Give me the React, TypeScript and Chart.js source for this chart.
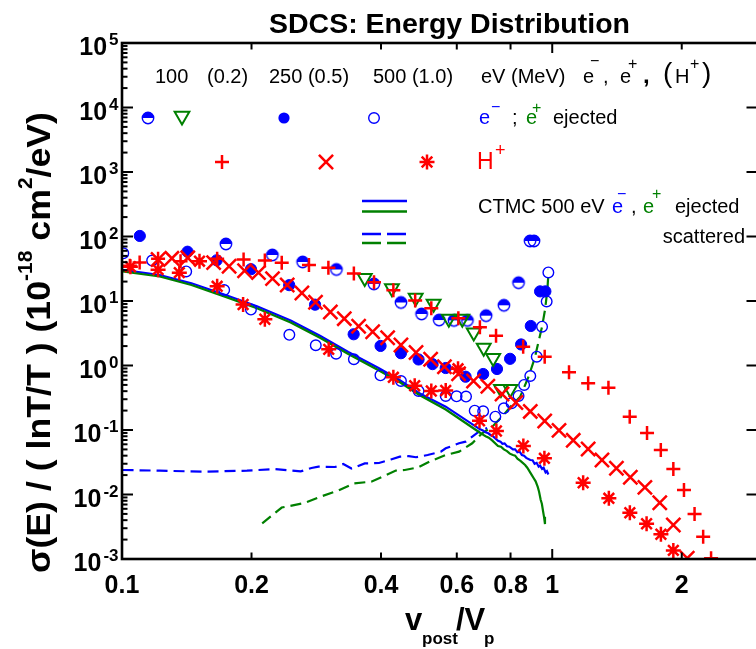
import React, { useEffect, useRef } from "react";
import { Chart, registerables } from "chart.js";

Chart.register(...registerables);

const FONT = "'Liberation Sans', Arial, Helvetica, sans-serif";
const BLUE = "#0000ff";
const GREEN = "#008000";
const RED = "#ff0000";

// ---------- axes ----------
const xTickValues = [0.1, 0.2, 0.4, 0.6, 0.8, 1, 2];
const xTickLabels = ["0.1", "0.2", "0.4", "0.6", "0.8", "1", "2"];
const yTickExponents = [5, 4, 3, 2, 1, 0, -1, -2, -3];

// ---------- measured data ----------
// 100 eV electrons (half-filled circles)
const e100X = [0.1744, 0.2236, 0.263, 0.315, 0.385, 0.445, 0.497, 0.546, 0.591, 0.635, 0.702, 0.772, 0.835, 0.888, 0.907];
const e100Y = [76.6, 51.7, 40.3, 30.8, 18.4, 9.48, 6.29, 5.07, 5.0, 5.0, 5.92, 8.58, 19.2, 85.2, 85.2];
// 100 eV positrons (open down triangles)
const p100X = [0.3666, 0.424, 0.4815, 0.53, 0.575, 0.618, 0.657, 0.693, 0.729, 0.76, 0.799];
const p100Y = [22.7, 15.8, 11.2, 9.1, 5.3, 5.3, 3.26, 1.89, 1.31, 0.434, 0.434];
// 250 eV electrons (filled circles)
const e250X = [0.11, 0.142, 0.166, 0.1994, 0.2447, 0.281, 0.3455, 0.399, 0.445, 0.489, 0.527, 0.5655, 0.629, 0.691, 0.744, 0.798, 0.8465, 0.8916, 0.937, 0.964];
const e250Y = [102, 58.1, 42.8, 31.1, 17.6, 8.77, 3.05, 2.01, 1.55, 1.24, 1.05, 0.914, 0.67, 0.738, 0.883, 1.27, 2.12, 4.1, 14.1, 14.1];
// 500 eV electrons (open circles)
const e500X = [0.1007, 0.1175, 0.141, 0.1728, 0.1994, 0.2449, 0.2821, 0.3145, 0.3459, 0.3988, 0.445, 0.489, 0.5655, 0.5993, 0.6304, 0.6604, 0.691, 0.7375, 0.772, 0.8043, 0.835, 0.8604, 0.8892, 0.9205, 0.947, 0.9707, 0.9795];
const e500Y = [54.9, 42.4, 28.7, 14.8, 7.36, 2.99, 2.06, 1.52, 1.25, 0.705, 0.575, 0.403, 0.337, 0.333, 0.33, 0.199, 0.195, 0.161, 0.217, 0.259, 0.337, 0.499, 0.687, 1.37, 4.0, 9.86, 27.7];
// 0.2 MeV protons (plus)
const h02X = [0.1043, 0.1099, 0.1213, 0.1368, 0.1664, 0.1917, 0.2148, 0.2351, 0.272, 0.3018, 0.3459, 0.3853, 0.4273, 0.4802, 0.5235, 0.605, 0.679, 0.7403, 0.856, 0.9605, 1.094, 1.212, 1.351, 1.514, 1.661, 1.788, 1.912, 2.024, 2.142, 2.243, 2.34];
const h02Y = [35.2, 39.5, 45.1, 41.4, 45.1, 43.8, 42.4, 39.3, 36.1, 32.8, 26.6, 19.6, 14.7, 10.2, 7.71, 5.4, 3.93, 2.9, 1.96, 1.37, 0.785, 0.53, 0.453, 0.161, 0.0898, 0.049, 0.0248, 0.01175, 0.00499, 0.00222, 0.00103];
// 0.5 MeV protons (x)
const h05X = [0.1213, 0.1306, 0.1422, 0.1633, 0.1774, 0.1927, 0.2076, 0.2238, 0.2421, 0.2619, 0.2817, 0.305, 0.3286, 0.3548, 0.3825, 0.4144, 0.445, 0.4824, 0.5216, 0.5617, 0.6057, 0.6562, 0.7085, 0.7644, 0.8233, 0.8892, 0.9605, 1.037, 1.119, 1.212, 1.305, 1.41, 1.519, 1.642, 1.778, 1.912, 2.06];
const h05Y = [44.0, 45.9, 46.7, 39.3, 34.5, 29.4, 27.5, 22.2, 17.7, 13.3, 9.58, 6.75, 5.32, 4.06, 3.34, 2.69, 2.08, 1.59, 1.25, 0.958, 0.746, 0.575, 0.476, 0.361, 0.267, 0.194, 0.138, 0.0986, 0.0692, 0.0507, 0.0343, 0.0255, 0.0185, 0.0129, 0.00746, 0.00337, 0.00103];
// 1.0 MeV protons (asterisk)
const h10X = [0.1046, 0.1213, 0.1359, 0.1514, 0.1664, 0.1912, 0.2148, 0.3023, 0.4273, 0.479, 0.5235, 0.5655, 0.604, 0.6776, 0.7417, 0.8568, 0.959, 1.18, 1.354, 1.515, 1.657, 1.789, 1.912];
const h10Y = [34.0, 30.6, 27.5, 41.4, 16.9, 8.83, 5.22, 1.78, 0.656, 0.486, 0.403, 0.41, 0.889, 0.139, 0.0964, 0.0565, 0.0364, 0.0152, 0.00873, 0.00522, 0.00352, 0.00242, 0.00136];

// CTMC 500 eV ejected electrons (blue solid)
const ctmcEjEX = [0.1003, 0.1224, 0.145, 0.1728, 0.2059, 0.2466, 0.2892, 0.3357, 0.3957, 0.4416, 0.4911, 0.5655, 0.6754, 0.69, 0.7, 0.71, 0.72, 0.73, 0.7482, 0.758, 0.766, 0.775, 0.785, 0.795, 0.8103, 0.82, 0.83, 0.84, 0.85, 0.86, 0.87, 0.8892, 0.9, 0.91, 0.92, 0.93, 0.937, 0.947, 0.955, 0.965, 0.972, 0.9795];
const ctmcEjEY = [30.3, 25.3, 18.8, 12.6, 8.28, 4.99, 2.87, 1.62, 0.906, 0.596, 0.371, 0.23, 0.105, 0.098, 0.092, 0.089, 0.083, 0.079, 0.0681, 0.066, 0.061, 0.062, 0.056, 0.055, 0.0499, 0.05, 0.045, 0.046, 0.041, 0.04, 0.037, 0.0343, 0.034, 0.03, 0.031, 0.027, 0.028, 0.025, 0.026, 0.022, 0.023, 0.0204];
// CTMC 500 eV ejected positrons (green solid)
const ctmcEjPX = [0.1003, 0.1224, 0.145, 0.1728, 0.2059, 0.2466, 0.2892, 0.3357, 0.3957, 0.4416, 0.4911, 0.5655, 0.6754, 0.69, 0.7, 0.712, 0.725, 0.7482, 0.76, 0.772, 0.785, 0.797, 0.8103, 0.82, 0.83, 0.845, 0.865, 0.875, 0.8965, 0.905, 0.915, 0.9254, 0.932, 0.9403, 0.946, 0.9528, 0.957, 0.962];
const ctmcEjPY = [28.7, 24.0, 17.7, 11.8, 7.71, 4.64, 2.67, 1.51, 0.836, 0.555, 0.349, 0.208, 0.0931, 0.085, 0.08, 0.076, 0.069, 0.0565, 0.055, 0.05, 0.047, 0.043, 0.0409, 0.04, 0.036, 0.033, 0.0287, 0.026, 0.02, 0.018, 0.016, 0.0131, 0.011, 0.00822, 0.0072, 0.00536, 0.0045, 0.00349];
// CTMC scattered electrons (blue dashed)
const ctmcScEX = [0.1003, 0.1224, 0.1554, 0.1952, 0.2266, 0.2441, 0.2602, 0.2757, 0.2862, 0.3127, 0.3268, 0.3415, 0.3666, 0.3957, 0.4217, 0.4423, 0.464, 0.4824, 0.5133, 0.5508, 0.5655, 0.6073, 0.629, 0.6754, 0.7059];
const ctmcScEY = [0.024, 0.0234, 0.0226, 0.0234, 0.0248, 0.0237, 0.0228, 0.0258, 0.027, 0.0267, 0.0297, 0.0253, 0.0303, 0.0308, 0.0349, 0.0386, 0.0393, 0.0378, 0.0409, 0.0461, 0.052, 0.0622, 0.0659, 0.0942, 0.107];
// CTMC scattered positrons (green dashed)
const ctmcScPX = [0.2118, 0.2351, 0.2657, 0.2892, 0.3183, 0.3464, 0.3797, 0.4063, 0.433, 0.4542, 0.4867, 0.518, 0.5655, 0.6073, 0.6517, 0.6874, 0.7248, 0.7644, 0.806, 0.8424, 0.881, 0.9108, 0.947, 0.962, 0.9743, 0.9795];
const ctmcScPY = [0.00357, 0.00628, 0.00738, 0.00925, 0.0115, 0.0149, 0.0158, 0.0194, 0.0235, 0.024, 0.0262, 0.0323, 0.0409, 0.0461, 0.0622, 0.0889, 0.112, 0.161, 0.244, 0.328, 0.67, 1.31, 4.0, 7.25, 14.8, 26.2];

const pts = (xs: number[], ys: number[]) => xs.map((x, i) => ({ x, y: ys[i] }));

function makeHalfCircle(r: number) {
  const size = Math.ceil(2 * r + 4);
  const c = document.createElement("canvas");
  c.width = size;
  c.height = size;
  const g = c.getContext("2d")!;
  const cx = size / 2, cy = size / 2;
  g.fillStyle = BLUE;
  g.beginPath();
  g.arc(cx, cy, r, Math.PI, 2 * Math.PI);
  g.closePath();
  g.fill();
  g.strokeStyle = BLUE;
  g.lineWidth = 1.4;
  g.beginPath();
  g.arc(cx, cy, r, 0, 2 * Math.PI);
  g.stroke();
  return c;
}

function font(size: number, bold?: boolean) {
  return `${bold ? "bold " : ""}${size}px ${FONT}`;
}

function txt(ctx: any, s: string, x: number, y: number, size: number, o: any = {}) {
  ctx.font = font(size, o.bold);
  ctx.fillStyle = o.color || "#000";
  ctx.textAlign = o.align || "left";
  ctx.textBaseline = "alphabetic";
  ctx.fillText(s, x, y);
  return ctx.measureText(s).width;
}

const PLUS_R = 7;
const X_R = 10;
const STAR_R = 7.5;
const RED_LW = 2.5;

function drawMarker(ctx: any, kind: string, x: number, y: number, half: HTMLCanvasElement) {
  ctx.save();
  ctx.lineCap = "butt";
  const line = (x1: number, y1: number, x2: number, y2: number) => {
    ctx.beginPath();
    ctx.moveTo(x1, y1);
    ctx.lineTo(x2, y2);
    ctx.stroke();
  };
  if (kind === "half") {
    ctx.drawImage(half, x - half.width / 2, y - half.height / 2);
  } else if (kind === "tri") {
    const r = 8.5;
    ctx.strokeStyle = GREEN;
    ctx.lineWidth = 2;
    ctx.beginPath();
    ctx.moveTo(x, y + r);
    ctx.lineTo(x - 0.866 * r, y - 0.5 * r);
    ctx.lineTo(x + 0.866 * r, y - 0.5 * r);
    ctx.closePath();
    ctx.stroke();
  } else if (kind === "dot") {
    ctx.fillStyle = BLUE;
    ctx.beginPath();
    ctx.arc(x, y, 5.6, 0, 2 * Math.PI);
    ctx.fill();
  } else if (kind === "open") {
    ctx.strokeStyle = BLUE;
    ctx.lineWidth = 1.4;
    ctx.beginPath();
    ctx.arc(x, y, 5.3, 0, 2 * Math.PI);
    ctx.stroke();
  } else if (kind === "plus") {
    ctx.strokeStyle = RED;
    ctx.lineWidth = RED_LW;
    line(x - PLUS_R, y, x + PLUS_R, y);
    line(x, y - PLUS_R, x, y + PLUS_R);
  } else if (kind === "x") {
    const d = X_R * 0.7071;
    ctx.strokeStyle = RED;
    ctx.lineWidth = RED_LW;
    line(x - d, y - d, x + d, y + d);
    line(x - d, y + d, x + d, y - d);
  } else if (kind === "star") {
    const r = STAR_R, d = r * 0.7071;
    ctx.strokeStyle = RED;
    ctx.lineWidth = RED_LW;
    line(x - r, y, x + r, y);
    line(x, y - r, x, y + r);
    line(x - d, y - d, x + d, y + d);
    line(x - d, y + d, x + d, y - d);
  }
  ctx.restore();
}

export default function App() {
  const ref = useRef<HTMLCanvasElement>(null);

  useEffect(() => {
    const canvas = ref.current!;
    const half = makeHalfCircle(5.7);

    const overlay = {
      id: "overlay",
      afterDraw(chart: any) {
        const ctx = chart.ctx;
        const { left, right, top, bottom } = chart.chartArea;
        const xs = chart.scales.x;
        const ys = chart.scales.y;
        ctx.save();
        const seg = (x1: number, y1: number, x2: number, y2: number) => {
          ctx.beginPath();
          ctx.moveTo(x1, y1);
          ctx.lineTo(x2, y2);
          ctx.stroke();
        };
        // frame
        ctx.strokeStyle = "#000";
        ctx.lineWidth = 2.6;
        ctx.strokeRect(left, top, right - left, bottom - top);
        // y ticks
        ctx.lineWidth = 2;
        for (const e of yTickExponents) {
          for (let m = 1; m <= 9; m++) {
            const v = m * Math.pow(10, e);
            if (v > ys.max * 1.0001) break;
            const py = ys.getPixelForValue(v);
            if (m === 1) {
              seg(left, py, left + 11, py);
              seg(right, py, right - 11, py);
            } else {
              seg(left, py, left + 5.5, py);
            }
          }
        }
        // x ticks
        xTickValues.forEach((v) => {
          const px = xs.getPixelForValue(v);
          const len = v === 1 ? 10 : 6.5;
          seg(px, bottom, px, bottom - len);
          seg(px, top, px, top + len);
        });
        // y tick labels
        for (const e of yTickExponents) {
          const py = ys.getPixelForValue(Math.pow(10, e));
          ctx.font = font(17, true);
          const es = String(e);
          const ew = ctx.measureText(es).width;
          txt(ctx, es, 118.5 - ew, py + 2, 17, { bold: true });
          txt(ctx, "10", 118.5 - ew - 2, py + 12, 25, { bold: true, align: "right" });
        }
        // x tick labels
        xTickValues.forEach((v, i) => {
          const px = xs.getPixelForValue(v);
          txt(ctx, xTickLabels[i], px, 593, 25, { bold: true, align: "center" });
        });
        // title
        ctx.font = font(28, true);
        {
          const s = "SDCS: Energy Distribution";
          const w = ctx.measureText(s).width;
          ctx.save();
          ctx.translate(269, 33);
          ctx.scale(361 / w, 1);
          ctx.fillStyle = "#000";
          ctx.textAlign = "left";
          ctx.fillText(s, 0, 0);
          ctx.restore();
        }
        // x axis title
        txt(ctx, "v", 405, 630, 31, { bold: true });
        txt(ctx, "post", 422, 644, 17, { bold: true });
        txt(ctx, "/V", 456, 630, 31, { bold: true });
        txt(ctx, "p", 484, 644, 17, { bold: true });
        // y axis title (rotated)
        {
          const runs = [
            { t: "σ(E) / ( lnT/T ) (10", s: 34, dy: 0 },
            { t: "-18", s: 20, dy: -18 },
            { t: " cm", s: 34, dy: 0 },
            { t: "2", s: 20, dy: -18 },
            { t: "/eV)", s: 34, dy: 0 },
          ];
          let W = 0;
          runs.forEach((r) => {
            ctx.font = font(r.s, true);
            W += ctx.measureText(r.t).width;
          });
          ctx.save();
          ctx.translate(50, 573);
          ctx.rotate(-Math.PI / 2);
          ctx.scale(461 / W, 1);
          let cx = 0;
          runs.forEach((r) => {
            cx += txt(ctx, r.t, cx, r.dy, r.s, { bold: true });
          });
          ctx.restore();
        }
        // in-plot annotations, row 1
        txt(ctx, "100", 155, 83, 20);
        txt(ctx, "(0.2)", 207, 83, 20);
        txt(ctx, "250 (0.5)", 269, 83, 20);
        txt(ctx, "500 (1.0)", 373, 83, 20);
        txt(ctx, "eV (MeV)", 481, 83, 20);
        txt(ctx, "e", 583, 83, 20);
        txt(ctx, "\u2212", 590, 66, 16);
        txt(ctx, ",", 603, 83, 20);
        txt(ctx, "e", 620, 83, 20);
        txt(ctx, "+", 628, 69, 16);
        txt(ctx, ",", 643, 83, 24, { bold: true });
        txt(ctx, "(", 663, 82, 28);
        txt(ctx, "H", 675, 83, 20);
        txt(ctx, "+", 690, 69, 16);
        txt(ctx, ")", 702, 82, 28);
        // row 2
        drawMarker(ctx, "half", 148, 118, half);
        drawMarker(ctx, "tri", 182, 116, half);
        drawMarker(ctx, "dot", 284, 118, half);
        drawMarker(ctx, "open", 374, 118, half);
        txt(ctx, "e", 479, 124, 20, { color: BLUE });
        txt(ctx, "\u2212", 491, 112, 16, { color: BLUE });
        txt(ctx, ";", 512, 124, 20);
        txt(ctx, "e", 526, 124, 20, { color: GREEN });
        txt(ctx, "+", 532, 113, 16, { color: GREEN });
        txt(ctx, "ejected", 553, 124, 20);
        // row 3
        drawMarker(ctx, "plus", 222, 162, half);
        drawMarker(ctx, "x", 326, 162, half);
        drawMarker(ctx, "star", 427, 162, half);
        txt(ctx, "H", 477, 169, 23, { color: RED });
        txt(ctx, "+", 495, 156, 18, { color: RED });
        // CTMC legend
        ctx.lineWidth = 2.4;
        ctx.strokeStyle = BLUE;
        seg(362, 201, 407, 201);
        ctx.strokeStyle = GREEN;
        seg(362, 211.5, 407, 211.5);
        ctx.setLineDash([19, 6]);
        ctx.strokeStyle = BLUE;
        seg(362, 234, 407, 234);
        ctx.strokeStyle = GREEN;
        seg(362, 243, 407, 243);
        ctx.setLineDash([]);
        txt(ctx, "CTMC 500 eV", 478, 213, 20);
        txt(ctx, "e", 612, 213, 20, { color: BLUE });
        txt(ctx, "\u2212", 617, 199, 16, { color: BLUE });
        txt(ctx, ",", 631, 213, 20);
        txt(ctx, "e", 643, 213, 20, { color: GREEN });
        txt(ctx, "+", 652, 199, 16, { color: GREEN });
        txt(ctx, "ejected", 675, 213, 20);
        txt(ctx, "scattered", 745, 243, 20, { align: "right" });
        ctx.restore();
      },
    };

    const mk = (data: any, style: any, extra: any) => ({
      data,
      showLine: false,
      clip: 0,
      pointStyle: style,
      ...extra,
    });
    const ln = (data: any, color: string, dash: number[]) => ({
      data,
      showLine: true,
      clip: 0,
      pointRadius: 0,
      borderColor: color,
      borderWidth: 2.2,
      borderDash: dash,
      tension: 0,
      fill: false,
    });

    const chart = new Chart(canvas, {
      type: "scatter",
      data: {
        datasets: [
          mk(pts(h02X, h02Y), "cross", { pointRadius: PLUS_R, pointBorderColor: RED, pointBorderWidth: RED_LW }),
          mk(pts(h05X, h05Y), "crossRot", { pointRadius: X_R, pointBorderColor: RED, pointBorderWidth: RED_LW }),
          mk(pts(h10X, h10Y), "star", { pointRadius: STAR_R, pointBorderColor: RED, pointBorderWidth: RED_LW }),
          mk(pts(p100X, p100Y), "triangle", {
            pointRadius: 8,
            pointRotation: 180,
            pointBorderColor: GREEN,
            pointBackgroundColor: "rgba(0,0,0,0)",
            pointBorderWidth: 2,
          }),
          mk(pts(e100X, e100Y), half, { pointRadius: 6 }),
          mk(pts(e250X, e250Y), "circle", {
            pointRadius: 5.6,
            pointBorderColor: BLUE,
            pointBackgroundColor: BLUE,
            pointBorderWidth: 1,
          }),
          mk(pts(e500X, e500Y), "circle", {
            pointRadius: 5.3,
            pointBorderColor: BLUE,
            pointBackgroundColor: "rgba(0,0,0,0)",
            pointBorderWidth: 1.4,
          }),
          ln(pts(ctmcEjPX, ctmcEjPY), GREEN, []),
          ln(pts(ctmcEjEX, ctmcEjEY), BLUE, []),
          ln(pts(ctmcScPX, ctmcScPY), GREEN, [11, 6]),
          ln(pts(ctmcScEX, ctmcScEY), BLUE, [11, 6]),
        ],
      },
      options: {
        responsive: false,
        animation: false,
        events: [],
        layout: { padding: { left: 0, right: 7.5, top: 43, bottom: 0 } },
        scales: {
          x: {
            type: "logarithmic",
            min: 0.1,
            max: 3,
            ticks: { display: false },
            grid: { display: false },
            border: { display: false },
            afterFit: (s: any) => {
              s.height = 90;
            },
          },
          y: {
            type: "logarithmic",
            min: 1e-3,
            max: 1e5,
            ticks: { display: false },
            grid: { display: false },
            border: { display: false },
            afterFit: (s: any) => {
              s.width = 122;
            },
          },
        },
        plugins: { legend: { display: false }, tooltip: { enabled: false } },
      },
      plugins: [overlay],
    } as any);

    return () => chart.destroy();
  }, []);

  return (
    <div
      style={{
        position: "fixed",
        left: 0,
        top: 0,
        width: 756,
        height: 649,
        overflow: "hidden",
        background: "#fff",
      }}
    >
      <canvas ref={ref} width={770} height={649} style={{ display: "block", width: 770, height: 649 }} />
    </div>
  );
}
